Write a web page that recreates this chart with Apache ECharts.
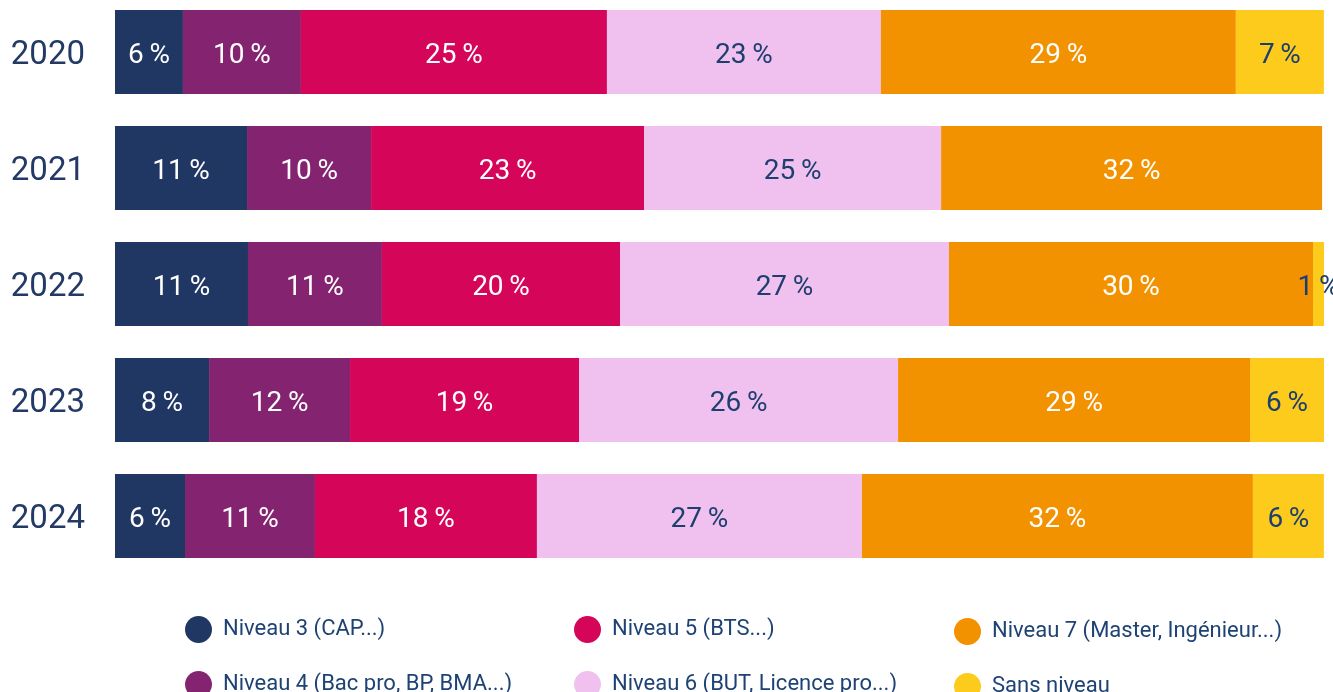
<!DOCTYPE html>
<html>
<head>
<meta charset="utf-8">
<script src="https://cdn.jsdelivr.net/npm/echarts@6/dist/echarts.min.js"></script>
<style>
  html, body { margin: 0; padding: 0; background: #fff; }
  #chart { width: 1333px; height: 692px; }
</style>
</head>
<body>
<div id="chart"></div>
<script>
const years = ['2020', '2021', '2022', '2023', '2024'];
const seriesNames = [
  'Niveau 3 (CAP...)',
  'Niveau 4 (Bac pro, BP, BMA...)',
  'Niveau 5 (BTS...)',
  'Niveau 6 (BUT, Licence pro...)',
  'Niveau 7 (Master, Ingénieur...)',
  'Sans niveau'
];
const colors = ['#213763', '#84236f', '#d5065a', '#f0c0ee', '#f29200', '#fccb1b'];
const labelColors = ['#fff', '#fff', '#fff', '#1d3f70', '#fff', '#1d3f70'];

// shares per level, one value per year (2020..2024)
const niveau3 = [5.62, 10.92, 11.0, 7.78, 5.79];
const niveau4 = [9.76, 10.26, 11.08, 11.66, 10.75];
const niveau5 = [25.31, 22.58, 19.69, 18.94, 18.36];
const niveau6 = [22.66, 24.57, 27.21, 26.39, 26.88];
const niveau7 = [29.36, 31.51, 30.11, 29.11, 32.34];
const sansNiveau = [7.28, null, 0.91, 6.2, 5.87];

const values = [niveau3, niveau4, niveau5, niveau6, niveau7, sansNiveau];

const chart = echarts.init(document.getElementById('chart'));
const font = 'Roboto, "Noto Sans", sans-serif';

const legendBase = {
  orient: 'vertical',
  top: 611,
  height: 120,
  icon: 'circle',
  itemWidth: 27,
  itemHeight: 27,
  itemGap: 28,
  selectedMode: false,
  textStyle: { color: '#1e4274', fontSize: 22, fontFamily: font, padding: [0, 0, 0, 6] }
};

chart.setOption({
  animation: false,
  color: colors,
  // category centres sit on the grid edges (boundaryGap false)
  grid: { left: 115, right: 9, top: 52, bottom: 176 },
  legend: [
    Object.assign({}, legendBase, { left: 180, data: [seriesNames[0], seriesNames[1]] }),
    Object.assign({}, legendBase, { left: 569, data: [seriesNames[2], seriesNames[3]] }),
    Object.assign({}, legendBase, { left: 949, top: 613, data: [seriesNames[4], seriesNames[5]] })
  ],
  xAxis: {
    type: 'value',
    min: 0,
    max: 100,
    show: false
  },
  yAxis: {
    type: 'category',
    data: years,
    inverse: true,
    boundaryGap: false,
    axisLine: { show: false },
    axisTick: { show: false },
    splitLine: { show: false },
    axisLabel: {
      margin: 30,
      formatter: '{y|{value}}',
      rich: {
        y: { color: '#243a66', fontSize: 33, fontFamily: font, padding: [8, 0, 0, 0] }
      }
    }
  },
  series: seriesNames.map((name, i) => ({
    name: name,
    type: 'bar',
    stack: 'total',
    barWidth: 84,
    data: values[i],
    itemStyle: { color: colors[i] },
    label: {
      show: true,
      position: 'inside',
      color: labelColors[i],
      fontSize: 28,
      fontFamily: font,
      offset: [0, 4],
      formatter: p => p.value == null ? '' : Math.round(p.value) + '\u2009%'
    }
  }))
});
</script>
</body>
</html>
